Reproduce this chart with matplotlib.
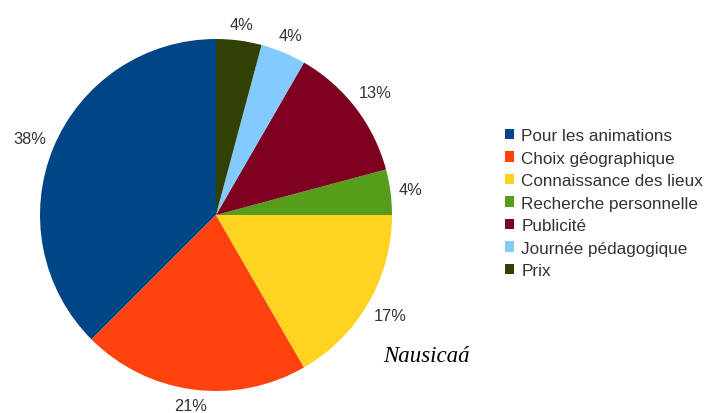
import numpy as np
import matplotlib
matplotlib.use('Agg')
import matplotlib.pyplot as plt
from matplotlib.patches import Patch

categories = ['Pour les animations', 'Choix géographique', 'Connaissance des lieux',
              'Recherche personnelle', 'Publicité', 'Journée pédagogique', 'Prix']
counts = [9, 5, 4, 1, 3, 1, 1]
colors = ['#004586', '#ff420e', '#ffd320', '#579d1c', '#7e0021', '#83caff', '#314004']

plt.rcParams['font.family'] = ['Liberation Sans', 'DejaVu Sans']

fig = plt.figure(figsize=(7.05, 4.14), dpi=100)
W, H = 705, 414
cx, cy, R = 216, 216, 176
ax = fig.add_axes([(cx - R) / W, (H - cy - R) / H, 2 * R / W, 2 * R / H])

total = sum(counts)
pct_labels = [str(int(100.0 * c / total + 0.5)) + '%' for c in counts]

wedges, texts = ax.pie(counts, colors=colors, startangle=90, counterclock=True,
                       radius=1.0, wedgeprops=dict(linewidth=0))
ax.set_xlim(-1, 1)
ax.set_ylim(-1, 1)
ax.set_aspect('equal')
ax.axis('off')

# place percentage labels just outside the pie, with text edge near the rim
fig.canvas.draw()
renderer = fig.canvas.get_renderer()
labels = []
for w, lab in zip(wedges, pct_labels):
    ang = np.deg2rad((w.theta1 + w.theta2) / 2.0)
    t = ax.text(0, 0, lab, ha='center', va='center', fontsize=11.8, color='#333333')
    labels.append((t, ang))
fig.canvas.draw()
for t, ang in labels:
    bb = t.get_window_extent(renderer)
    hw, hh = bb.width / 2.0, bb.height / 2.0
    r = R + 7 + hw * abs(np.cos(ang)) + hh * abs(np.sin(ang))
    t.set_position((r / R * np.cos(ang), r / R * np.sin(ang)))
    t.set_clip_on(False)

handles = [Patch(facecolor=c, edgecolor='none') for c in colors]
fig.legend(handles, categories, loc='upper left', bbox_to_anchor=(505 / W, 1 - 129 / H),
           frameon=False, fontsize=12.3, handlelength=0.55, handleheight=0.55,
           handletextpad=0.4, labelspacing=0.44, labelcolor='#333333',
           borderaxespad=0, borderpad=0)

fig.text(383 / W, 1 - 356 / H, 'Nausicaá', family='Liberation Serif', style='italic',
         fontsize=16.5, va='center', ha='left', color='black')

fig.savefig('out.png', dpi=100)
